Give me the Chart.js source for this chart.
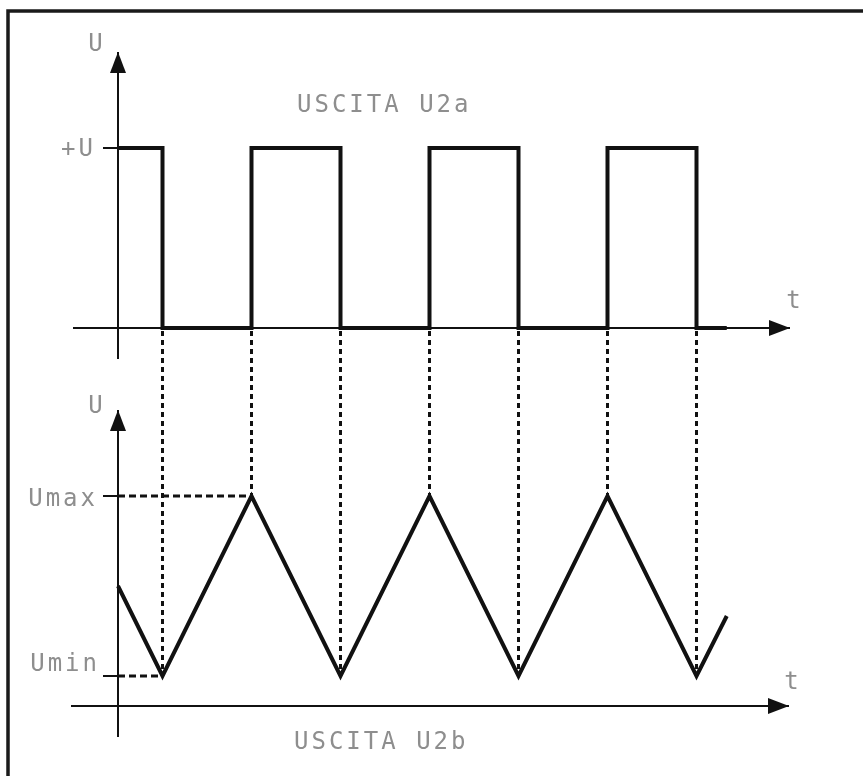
<!DOCTYPE html>
<html>
<head>
<title>Uscite U2a - U2b</title>
<script src="https://cdn.jsdelivr.net/npm/chart.js"></script>
<style>
    html, body { margin: 0; padding: 0; background: #fff; }
    #wave { display: block; }
</style>
</head>
<body>
<canvas id="wave" width="863" height="776"></canvas>
<script>
    // tempo in semiperiodi, livelli in unità arbitrarie
    // uscita U2a: onda quadra
    const sqTime  = [0, 0.5, 0.5, 1.5, 1.5, 2.5, 2.5, 3.5, 3.5, 4.5, 4.5, 5.5, 5.5, 6.5, 6.5, 6.84];
    const sqLevel = [3, 3,   0,   0,   3,   3,   0,   0,   3,   3,   0,   0,   3,   3,   0,   0];
    // uscita U2b: onda triangolare
    const triTime  = [0, 0.5, 1.5, 2.5, 3.5, 4.5, 5.5, 6.5, 6.84];
    const triLevel = [2, 0.5, 3.5, 0.5, 3.5, 0.5, 3.5, 0.5, 1.5];
    // livelli con etichetta
    const topTicks = [{ v: 3, label: '+U' }];
    const botTicks = [{ v: 3.5, label: 'Umax' }, { v: 0.5, label: 'Umin' }];
    const titles = ['USCITA U2a', 'USCITA U2b'];

    // impaginazione (pixel)
    const W = 863, H = 776;
    const X0 = 118, PX_T = 89;          // origine dei tempi, pixel per semiperiodo
    const TOP0 = 328, BOT0 = 706, PX_U = 60;
    const INK = '#111', TXT = '#8e8e8e';
    const FONT = '24px "DejaVu Sans Mono"';

    function pts(xs, ys) { return xs.map((x, i) => ({ x: x, y: ys[i] })); }

    function line(ctx, x1, y1, x2, y2) {
        ctx.beginPath(); ctx.moveTo(x1, y1); ctx.lineTo(x2, y2); ctx.stroke();
    }

    // freccia piena con la punta in (x, y)
    function arrow(ctx, x, y, dx, dy) {
        const len = 21, hw = 8;
        const bx = x - dx * len, by = y - dy * len;
        ctx.beginPath();
        ctx.moveTo(x, y);
        ctx.lineTo(bx - dy * hw, by + dx * hw);
        ctx.lineTo(bx + dy * hw, by - dx * hw);
        ctx.closePath();
        ctx.fill();
    }

    function text(ctx, s, x, y, align) {
        ctx.save();
        ctx.font = FONT;
        ctx.fillStyle = TXT;
        ctx.letterSpacing = '3px';
        ctx.textBaseline = 'middle';
        const w = ctx.measureText(s).width;
        let left = x;
        if (align === 'right') left = x - w;
        else if (align === 'center') left = x - w / 2;
        ctx.textAlign = 'left';
        ctx.fillText(s, left, y);
        ctx.restore();
    }

    const diagram = {
        id: 'diagram',
        beforeDatasetsDraw(chart) {
            const ctx = chart.ctx;
            const xs = chart.scales.x, yt = chart.scales.yTop, yb = chart.scales.yBot;
            const ox = xs.getPixelForValue(0);
            const y0t = yt.getPixelForValue(0), y0b = yb.getPixelForValue(0);

            ctx.save();
            // cornice
            ctx.strokeStyle = '#1a1a1a';
            ctx.lineWidth = 3.5;
            ctx.strokeRect(8, 11, W + 20, H + 20);

            // assi
            ctx.strokeStyle = INK;
            ctx.fillStyle = INK;
            ctx.lineWidth = 2;
            line(ctx, ox - 45, y0t, 790, y0t);
            arrow(ctx, 790, y0t, 1, 0);
            line(ctx, ox, y0t + 31, ox, 52);
            arrow(ctx, ox, 52, 0, -1);
            line(ctx, ox - 47, y0b, 789, y0b);
            arrow(ctx, 789, y0b, 1, 0);
            line(ctx, ox, y0b + 31, ox, 410);
            arrow(ctx, ox, 410, 0, -1);

            // tacche dei livelli
            topTicks.forEach(t => { const y = yt.getPixelForValue(t.v); line(ctx, ox - 15, y, ox, y); });
            botTicks.forEach(t => { const y = yb.getPixelForValue(t.v); line(ctx, ox - 15, y, ox, y); });

            // richiami tratteggiati
            ctx.lineWidth = 3;
            ctx.setLineDash([5, 4]);
            for (let i = 1; i < triTime.length - 1; i++) {
                const x = xs.getPixelForValue(triTime[i]);
                line(ctx, x, y0t + 3, x, yb.getPixelForValue(triLevel[i]));
            }
            ctx.setLineDash([7, 4]);
            botTicks.forEach(t => {
                const i = triLevel.indexOf(t.v);
                const y = yb.getPixelForValue(t.v);
                line(ctx, ox, y, xs.getPixelForValue(triTime[i]), y);
            });
            ctx.restore();
        },
        afterDatasetsDraw(chart) {
            const ctx = chart.ctx;
            const yt = chart.scales.yTop, yb = chart.scales.yBot;
            const ox = chart.scales.x.getPixelForValue(0);
            const y0t = yt.getPixelForValue(0), y0b = yb.getPixelForValue(0);

            text(ctx, 'U', ox - 21, 45, 'center');
            text(ctx, 'U', ox - 21, 407, 'center');
            text(ctx, 't', 795, y0t - 26, 'center');
            text(ctx, 't', 793, y0b - 23, 'center');
            text(ctx, topTicks[0].label, ox - 22, yt.getPixelForValue(topTicks[0].v) + 2, 'right');
            text(ctx, botTicks[0].label, ox - 20, yb.getPixelForValue(botTicks[0].v) + 4, 'right');
            text(ctx, botTicks[1].label, ox - 18, yb.getPixelForValue(botTicks[1].v) - 11, 'right');
            text(ctx, titles[0], 297, 106, 'left');
            text(ctx, titles[1], 294, 743, 'left');
        }
    };

    const waveStyle = {
        showLine: true,
        borderColor: INK,
        borderWidth: 4,
        pointRadius: 0,
        tension: 0,
        borderJoinStyle: 'miter',
        borderCapStyle: 'butt',
        clip: false
    };

    new Chart(document.getElementById('wave'), {
        type: 'scatter',
        data: {
            datasets: [
                { ...waveStyle, label: 'U2a', data: pts(sqTime, sqLevel), yAxisID: 'yTop' },
                { ...waveStyle, label: 'U2b', data: pts(triTime, triLevel), yAxisID: 'yBot' }
            ]
        },
        options: {
            responsive: false,
            devicePixelRatio: 1,
            animation: false,
            layout: { padding: 0 },
            plugins: { legend: { display: false }, tooltip: { enabled: false } },
            scales: {
                x: { type: 'linear', display: false, min: -X0 / PX_T, max: (W - X0) / PX_T },
                yTop: { type: 'linear', display: false, min: -(H - TOP0) / PX_U, max: TOP0 / PX_U },
                yBot: { type: 'linear', display: false, min: -(H - BOT0) / PX_U, max: BOT0 / PX_U }
            }
        },
        plugins: [diagram]
    });
</script>
</body>
</html>
